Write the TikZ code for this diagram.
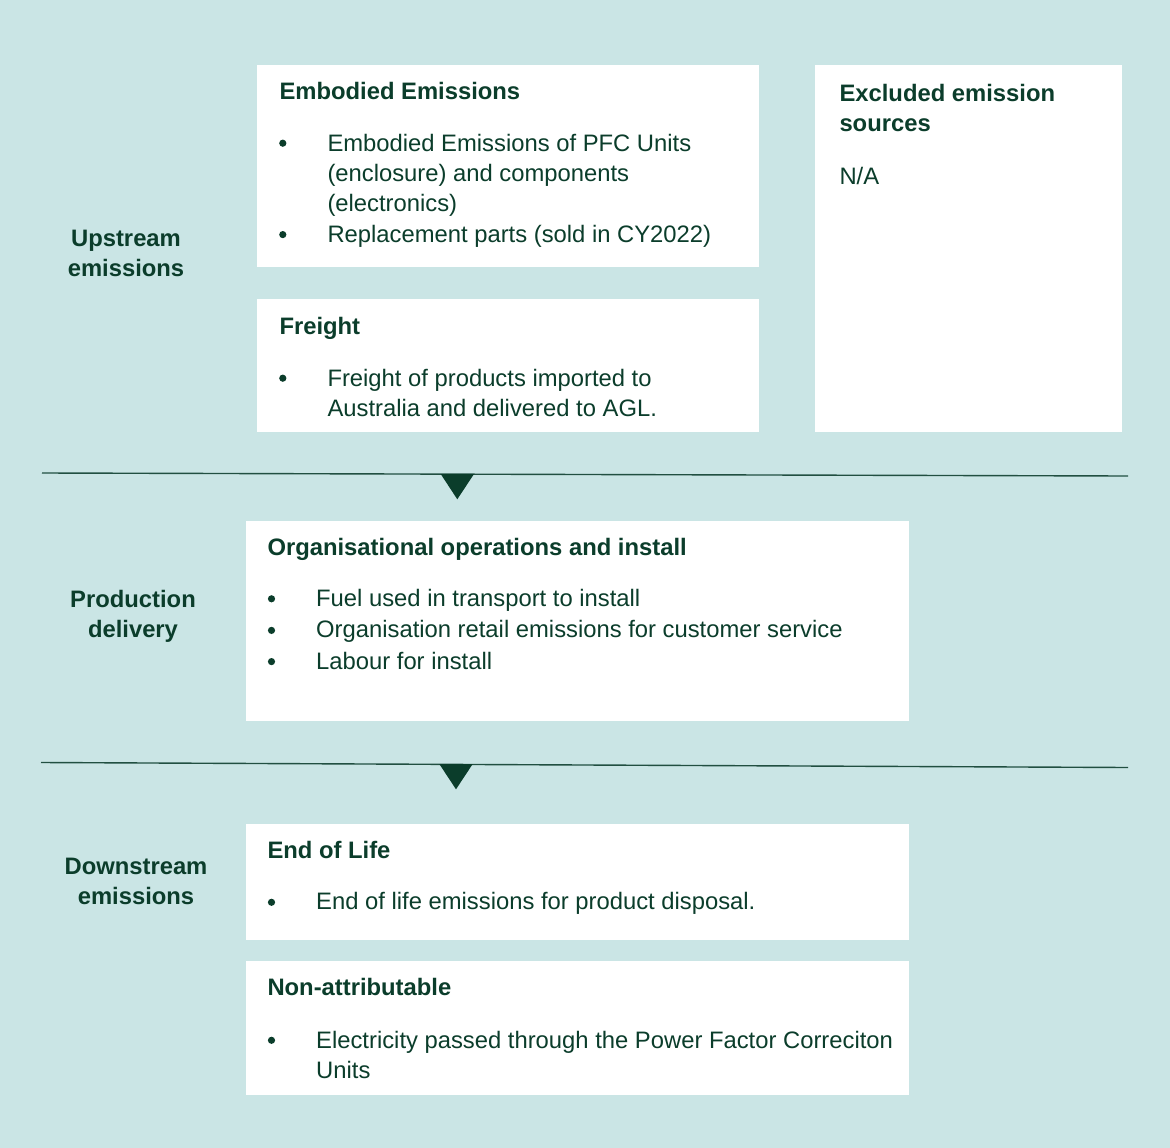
\documentclass[tikz,border=0pt]{standalone}
\usepackage{fontspec}
\setmainfont{Liberation Sans}
\usetikzlibrary{calc}
\definecolor{mist}{HTML}{CAE5E5}
\definecolor{ink}{HTML}{0B3D2B}
\definecolor{rulegreen}{HTML}{214F41}
\newcommand{\fs}{\fontsize{23.8}{30}\selectfont}
\newcommand{\panel}[4]{\fill[white] (#1,#2) rectangle (#3,#4);}
\newcommand{\bul}[2]{\fill[ink] (#1-44.5,#2-7.4) circle (3.6);}
\tikzset{
  head/.style={anchor=base west,inner sep=0pt,text=ink,font=\fs\bfseries},
  txt/.style={anchor=base west,inner sep=0pt,text=ink,font=\fs},
  side/.style={anchor=north,inner sep=0pt,align=center,text=ink,font=\fs\bfseries}
}

\begin{document}
\begin{tikzpicture}[x=1pt,y=-1pt]
\fill[mist] (0,0) rectangle (1170,1148);
\panel{257}{65}{759}{267}\panel{257}{299}{759}{432}\panel{815}{65}{1122}{432}
\panel{246}{521}{909}{721}\panel{246}{824}{909}{940}\panel{246}{961}{909}{1095}

\node[side] (upL) at (126,230.2) {Upstream\\emissions};
\node[side] (prodL) at (133,590.2) {Production\\delivery};
\node[side] (downL) at (136,858.2) {Downstream\\emissions};

\node[head] (embT) at (279.3,99.3) {Embodied Emissions};
\node[txt,anchor=north west,align=left] (embA) at (327.3,133.6) {Embodied Emissions of PFC Units\\(enclosure) and components\\(electronics)};
\node[txt] (embB) at (327.3,242) {Replacement parts (sold in CY2022)};
\bul{327.3}{150.6}\bul{327.3}{242}
\node[head] (frT) at (279.3,334.3) {Freight};
\node[txt,anchor=north west,align=left] (frA) at (327.3,368.6) {Freight of products imported to\\Australia and delivered to AGL.};
\bul{327.3}{385.6}
\node[head,anchor=north west,align=left] (exT) at (839.3,84.3) {Excluded emission\\sources};
\node[txt] (exA) at (839.3,184) {N/A};

\coordinate (cutAl) at (42,473);\coordinate (cutAr) at (1128,476);
\draw[rulegreen,line width=1.4pt] (cutAl)--(cutAr);
\fill[ink] (440.7,474)--(474,474)--(457.3,499.3)--cycle;

\node[head] (orgT) at (267.3,555) {Organisational operations and install};
\node[txt] (orgA) at (316,606.2) {Fuel used in transport to install};
\node[txt] (orgB) at (316,637.8) {Organisation retail emissions for customer service};
\node[txt] (orgC) at (316,669) {Labour for install};
\bul{316}{606.2}\bul{316}{637.8}\bul{316}{669}

\coordinate (cutBl) at (41,762.5);\coordinate (cutBr) at (1128,767.5);
\draw[rulegreen,line width=1.4pt] (cutBl)--(cutBr);
\fill[ink] (439.3,764)--(472.7,764)--(456,789.3)--cycle;

\node[head] (eolT) at (267.3,858.3) {End of Life};
\node[txt] (eolA) at (316,909.7) {End of life emissions for product disposal.};
\bul{316}{909.7}
\node[head] (naT) at (267.3,995.3) {Non-attributable};
\node[txt,anchor=north west,align=left] (naA) at (316,1030.6) {Electricity passed through the Power Factor Correciton\\Units};
\bul{316}{1047.7}
\end{tikzpicture}
\end{document}
